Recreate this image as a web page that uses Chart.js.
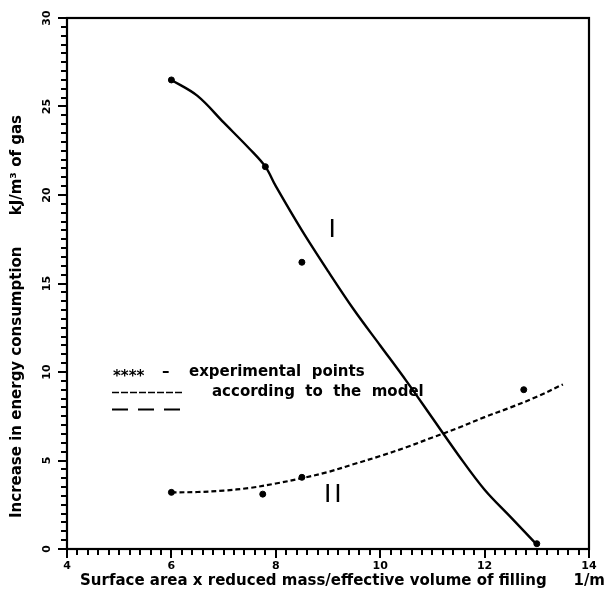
<!DOCTYPE html>
<html><head><meta charset="utf-8">
<script src="https://cdn.jsdelivr.net/npm/chart.js@4.4.1/dist/chart.umd.min.js"></script>
<style>html,body{margin:0;padding:0;background:#fff;}#wrap{width:606px;height:591px;position:relative;}</style>
</head><body><div id="wrap"><canvas id="c" width="606" height="591"></canvas></div>
<script>
// ---- data ----
const xTickLabels = ['4','6','8','10','12','14'];
const yTickLabels = ['0','5','10','15','20','25','30'];
const curveIX  = [6, 6.5, 7, 7.5, 7.8, 8, 8.5, 9, 9.5, 10, 10.5, 11, 11.5, 12, 12.5, 13];
const curveIY  = [26.5, 25.6, 24.1, 22.6, 21.6, 20.5, 18.0, 15.7, 13.5, 11.5, 9.5, 7.4, 5.3, 3.35, 1.8, 0.25];
const curveIIX = [6, 6.5, 7, 7.5, 8, 8.5, 9, 9.5, 10, 10.5, 11, 11.5, 12, 12.5, 13, 13.5];
const curveIIY = [3.2, 3.22, 3.3, 3.45, 3.7, 4.0, 4.35, 4.8, 5.25, 5.75, 6.3, 6.85, 7.45, 8.0, 8.6, 9.3];
const pointsIX  = [6.0, 7.8, 8.5, 13.0];
const pointsIY  = [26.5, 21.6, 16.2, 0.3];
const pointsIIX = [6.0, 7.75, 8.5, 12.75];
const pointsIIY = [3.2, 3.1, 4.05, 9.0];
const xTitleMain = 'Surface area x reduced mass/effective volume of filling';
const xTitleUnit = '1/m';
const yTitleMain = 'Increase in energy consumption';
const yTitleUnit = 'kJ/m\u00B3 of gas';
const legendLines = ['\u2013', 'experimental  points', 'according  to  the  model'];
const curveLabels = ['I', 'II'];
const curveLabelPos = [[9.08, 18.0], [9.12, 3.0]];

const pairs = (xs, ys) => xs.map((x, i) => ({x: x, y: ys[i]}));
const FONT = '"DejaVu Sans", "Liberation Sans", sans-serif';

const decor = {
  id: 'decor',
  afterDraw(chart) {
    const ctx = chart.ctx, a = chart.chartArea;
    const xs = chart.scales.x, ys = chart.scales.y;
    ctx.save();
    ctx.strokeStyle = '#000'; ctx.fillStyle = '#000';
    // frame
    ctx.lineWidth = 2.2;
    ctx.strokeRect(a.left, a.top, a.right - a.left, a.bottom - a.top);
    // ticks
    ctx.lineWidth = 2;
    ctx.beginPath();
    for (let i = 0; i <= 50; i++) {
      const px = Math.round(xs.getPixelForValue(4 + i * 0.2));
      const len = (i % 10 === 0) ? 9 : 6;
      ctx.moveTo(px, a.bottom); ctx.lineTo(px, a.bottom + len);
    }
    for (let i = 0; i <= 60; i++) {
      const py = Math.round(ys.getPixelForValue(i * 0.5));
      const len = (i % 10 === 0) ? 9 : 6;
      ctx.moveTo(a.left, py); ctx.lineTo(a.left - len, py);
    }
    ctx.stroke();
    // tick labels
    ctx.font = 'bold 11px ' + FONT;
    ctx.textAlign = 'center'; ctx.textBaseline = 'middle';
    xTickLabels.forEach(t => {
      ctx.fillText(t, xs.getPixelForValue(Number(t)), 566);
    });
    yTickLabels.forEach(t => {
      const py = ys.getPixelForValue(Number(t));
      ctx.save(); ctx.translate(47, py); ctx.rotate(-Math.PI / 2);
      ctx.fillText(t, 0, 0); ctx.restore();
    });
    // axis titles
    ctx.font = 'bold 15px ' + FONT;
    ctx.textAlign = 'left';
    ctx.fillText(xTitleMain, 80, 581);
    ctx.textAlign = 'right';
    ctx.fillText(xTitleUnit, 605, 581);
    ctx.save(); ctx.translate(17, 0); ctx.rotate(-Math.PI / 2);
    ctx.textAlign = 'left'; ctx.fillText(yTitleMain, -518, 0);
    ctx.textAlign = 'right'; ctx.fillText(yTitleUnit, -115, 0);
    ctx.restore();
    // legend
    ctx.textAlign = 'left';
    ctx.font = 'bold 15px ' + FONT;
    ctx.fillText('****', 113, 377);
    ctx.fillText(legendLines[0], 162, 372);
    ctx.fillText(legendLines[1], 189, 372);
    ctx.fillText(legendLines[2], 212, 392);
    ctx.lineWidth = 1.6;
    ctx.setLineDash([7, 2]);
    ctx.beginPath(); ctx.moveTo(112, 392.5); ctx.lineTo(183, 392.5); ctx.stroke();
    ctx.lineWidth = 2;
    ctx.setLineDash([16, 10]);
    ctx.beginPath(); ctx.moveTo(112, 409.5); ctx.lineTo(181, 409.5); ctx.stroke();
    ctx.setLineDash([]);
    // curve labels
    ctx.font = '25px "DejaVu Sans", sans-serif';
    ctx.textAlign = 'center';
    curveLabels.forEach((t, i) => {
      const [vx, vy] = curveLabelPos[i];
      ctx.save();
      if (i === 1) ctx.letterSpacing = '3px';
      ctx.fillText(t, xs.getPixelForValue(vx), ys.getPixelForValue(vy));
      ctx.restore();
    });
    ctx.restore();
  }
};

new Chart(document.getElementById('c'), {
  type: 'scatter',
  data: {
    datasets: [
      { label: 'I model', data: pairs(curveIX, curveIY), showLine: true, borderColor: '#000', borderWidth: 2.4, pointRadius: 0, tension: 0.35, fill: false },
      { label: 'II model', data: pairs(curveIIX, curveIIY), showLine: true, borderColor: '#000', borderWidth: 2.2, borderDash: [5, 3], pointRadius: 0, tension: 0.35, fill: false },
      { label: 'I experimental', data: pairs(pointsIX, pointsIY), showLine: false, pointRadius: 3, backgroundColor: '#000', borderColor: '#000' },
      { label: 'II experimental', data: pairs(pointsIIX, pointsIIY), showLine: false, pointRadius: 3, backgroundColor: '#000', borderColor: '#000' }
    ]
  },
  options: {
    responsive: false,
    animation: false,
    devicePixelRatio: 1,
    layout: { padding: { left: 0, right: 17, top: 18, bottom: 0 } },
    plugins: { legend: { display: false }, tooltip: { enabled: false } },
    scales: {
      x: { type: 'linear', min: 4, max: 14, grid: { display: false, drawTicks: false }, border: { display: false }, ticks: { display: false, stepSize: 2 },
           afterFit(s) { s.height = 42; } },
      y: { type: 'linear', min: 0, max: 30, grid: { display: false, drawTicks: false }, border: { display: false }, ticks: { display: false, stepSize: 5 },
           afterFit(s) { s.width = 67; } }
    }
  },
  plugins: [decor]
});
</script></body></html>
